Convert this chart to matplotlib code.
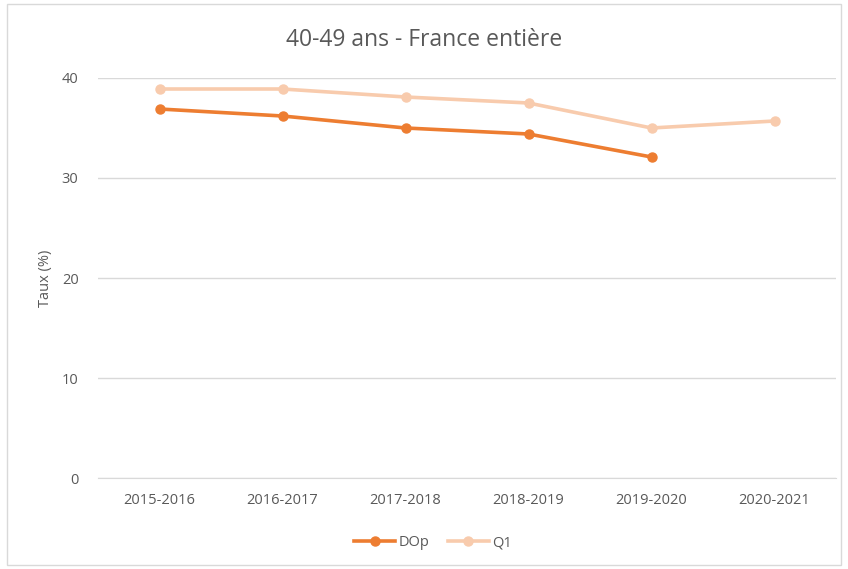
import matplotlib
matplotlib.use('Agg')
from matplotlib import pyplot as plt
from matplotlib.patches import Rectangle

years = ['2015-2016', '2016-2017', '2017-2018', '2018-2019', '2019-2020', '2020-2021']
dop = [36.9, 36.2, 35.0, 34.4, 32.1]
q1 = [38.9, 38.9, 38.1, 37.5, 35.0, 35.7]
yticks = [0, 10, 20, 30, 40]

text_color = '#595959'
grid_color = '#D9D9D9'

plt.rcParams['font.family'] = ['Open Sans', 'DejaVu Sans']

fig = plt.figure(figsize=(8.48, 5.69), dpi=100)
fig.patches.append(Rectangle((7 / 848, 4 / 569), 834 / 848, 561 / 569, transform=fig.transFigure,
                             fill=False, edgecolor='#D9D9D9', linewidth=1))

ax = fig.add_axes([98 / 848, 91 / 569, 738 / 848, 400 / 569])

x = list(range(len(years)))
ax.plot(x[:len(dop)], dop, color='#ED7D31', linewidth=2.6, marker='o', markersize=6.5, label='DOp', zorder=3)
ax.plot(x, q1, color='#F8CBAD', linewidth=2.6, marker='o', markersize=6.5, label='Q1', zorder=2)

ax.set_xlim(-0.5, len(years) - 0.5)
ax.set_ylim(0, 40)
ax.set_yticks(yticks)
ax.set_xticks(x)
ax.set_xticklabels(years)
ax.yaxis.grid(True, color=grid_color, linewidth=1)
ax.set_axisbelow(True)
for side in ['left', 'right', 'top']:
    ax.spines[side].set_visible(False)
ax.spines['bottom'].set_color(grid_color)
ax.tick_params(axis='both', length=0, colors=text_color, labelsize=10.5)
ax.tick_params(axis='x', pad=11)
ax.tick_params(axis='y', pad=14)
ax.set_ylabel('Taux (%)', color=text_color, fontsize=10.5, labelpad=6)

fig.text(0.5, 1 - 40 / 569, '40-49 ans - France entière', ha='center', va='center',
         fontsize=16.5, color=text_color)

ax.legend(loc='center', bbox_to_anchor=(433 / 848, 1 - 543 / 569), bbox_transform=fig.transFigure,
          ncol=2, frameon=False, fontsize=10.5, labelcolor=text_color, handlelength=2.8,
          handletextpad=0.2, columnspacing=1.3)

fig.savefig('out.png', dpi=100)
